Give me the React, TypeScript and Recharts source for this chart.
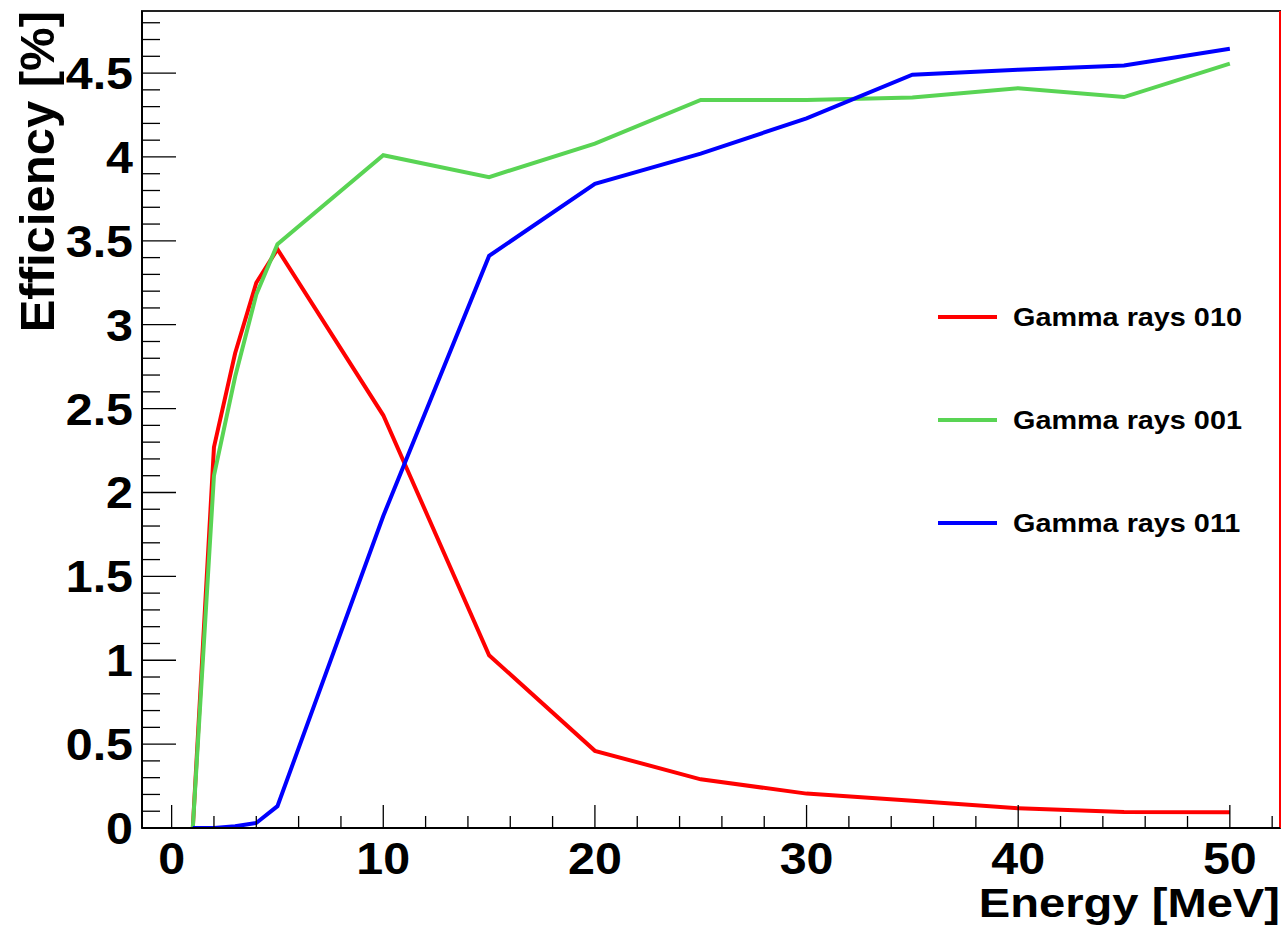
import React from 'react';
import { LineChart, Line, XAxis, YAxis, ReferenceArea, ReferenceLine, Legend, Label } from 'recharts';

const energy = [1, 2, 3, 4, 5, 10, 15, 20, 25, 30, 35, 40, 45, 50];
const rays010 = [0, 2.27, 2.83, 3.25, 3.45, 2.46, 1.03, 0.46, 0.29, 0.205, 0.163, 0.117, 0.095, 0.094];
const rays001 = [0, 2.1, 2.69, 3.18, 3.48, 4.01, 3.88, 4.08, 4.34, 4.34, 4.355, 4.41, 4.357, 4.556];
const rays011 = [0, 0, 0.01, 0.03, 0.13, 1.86, 3.41, 3.84, 4.02, 4.23, 4.49, 4.52, 4.545, 4.645];
const seriesNames = ['Gamma rays 010', 'Gamma rays 001', 'Gamma rays 011'];
const seriesColors = ['#ff0000', '#59d454', '#0000ff'];

const xMajorTicks = [0, 10, 20, 30, 40, 50];
const xTicks = [0, 2, 4, 6, 8, 10, 12, 14, 16, 18, 20, 22, 24, 26, 28, 30, 32, 34, 36, 38, 40, 42, 44, 46, 48, 50, 52];
const yMajorLabels = ['0', '0.5', '1', '1.5', '2', '2.5', '3', '3.5', '4', '4.5'];
const yTicks = Array.from({ length: 49 }, (_, i) => i / 10);

const X_DOMAIN: [number, number] = [-1.4, 52.37];
const Y_DOMAIN: [number, number] = [0, 4.87];

const data = energy.map((e, i) => ({ energy: e, r010: rays010[i], r001: rays001[i], r011: rays011[i] }));

const FONT = '"Liberation Sans", Arial, Helvetica, sans-serif';

const XTick = (props: any) => {
  const { x, y, payload } = props;
  const v = payload.value;
  const major = xMajorTicks.includes(v);
  return (
    <g>
      <line x1={x} x2={x} y1={y} y2={y - (major ? 23 : 12)} stroke="#000" strokeWidth={1.3} />
      {major && (
        <text
          transform={`translate(${x},${y + 46}) scale(1.1,1)`}
          textAnchor="middle"
          fontSize={44}
          fontWeight="bold"
          fontFamily={FONT}
          fill="#000"
        >
          {v}
        </text>
      )}
    </g>
  );
};

const YTick = (props: any) => {
  const { x, y, payload } = props;
  const v = payload.value;
  const idx = Math.round(v * 10);
  const major = idx % 5 === 0;
  return (
    <g>
      <line x1={x} x2={x + (major ? 34 : 18)} y1={y} y2={y} stroke="#000" strokeWidth={1.3} />
      {major && (
        <text
          transform={`translate(${x - 9},${y + 16}) scale(1.1,1)`}
          textAnchor="end"
          fontSize={44}
          fontWeight="bold"
          fontFamily={FONT}
          fill="#000"
        >
          {yMajorLabels[idx / 5]}
        </text>
      )}
    </g>
  );
};

const XTitle = () => (
  <text
    transform="translate(1280,917) scale(1.15,1)"
    textAnchor="end"
    fontSize={41}
    fontWeight="bold"
    fontFamily={FONT}
    fill="#000"
  >
    Energy [MeV]
  </text>
);

const YTitle = () => (
  <text
    transform="translate(54,11) rotate(-90)"
    textAnchor="end"
    fontSize={49}
    fontWeight="bold"
    fontFamily={FONT}
    fill="#000"
  >
    Efficiency [%]
  </text>
);

const renderLegend = () => (
  <svg width={350} height={260}>
    {seriesNames.map((name, i) => {
      const cy = 27 + i * 103;
      return (
        <g key={name}>
          <line x1={8} x2={67} y1={cy} y2={cy} stroke={seriesColors[i]} strokeWidth={4} />
          <text
            transform={`translate(83,${cy + 9}) scale(1.13,1)`}
            fontSize={25.5}
            fontWeight="bold"
            fontFamily={FONT}
            fill="#000"
          >
            {name}
          </text>
        </g>
      );
    })}
  </svg>
);

export default function App() {
  return (
    <div style={{ position: 'absolute', left: 0, top: 0, background: '#fff' }}>
      <LineChart width={1285} height={926} data={data} margin={{ top: 11, right: 5, bottom: 0, left: 0 }}>
        <XAxis
          type="number"
          dataKey="energy"
          domain={X_DOMAIN}
          ticks={xTicks}
          interval={0}
          tick={<XTick />}
          tickSize={0}
          tickMargin={0}
          tickLine={false}
          axisLine={{ stroke: '#000', strokeWidth: 2 }}
          height={98}
          allowDataOverflow
        >
          <Label content={XTitle} />
        </XAxis>
        <YAxis
          type="number"
          domain={Y_DOMAIN}
          ticks={yTicks}
          interval={0}
          tick={<YTick />}
          tickSize={0}
          tickMargin={0}
          tickLine={false}
          axisLine={{ stroke: '#000', strokeWidth: 2 }}
          width={142}
          allowDataOverflow
        >
          <Label content={YTitle} />
        </YAxis>
        <ReferenceArea x1={X_DOMAIN[0]} x2={X_DOMAIN[1]} y1={Y_DOMAIN[0]} y2={Y_DOMAIN[1]} fill="none" stroke="#222" strokeWidth={2} />
        <ReferenceLine y={0} stroke="#ff0000" strokeWidth={2} />
        <ReferenceLine x={X_DOMAIN[1]} stroke="#ff0000" strokeWidth={2} />
        <Line type="linear" dataKey="r010" name={seriesNames[0]} stroke={seriesColors[0]} strokeWidth={4} dot={false} isAnimationActive={false} />
        <Line type="linear" dataKey="r001" name={seriesNames[1]} stroke={seriesColors[1]} strokeWidth={4} dot={false} isAnimationActive={false} />
        <Line type="linear" dataKey="r011" name={seriesNames[2]} stroke={seriesColors[2]} strokeWidth={4} dot={false} isAnimationActive={false} />
        <Legend
          layout="horizontal"
          verticalAlign="middle"
          align="center"
          content={renderLegend}
          wrapperStyle={{ position: 'absolute', left: 930, top: 290, width: 350, height: 260 }}
        />
      </LineChart>
    </div>
  );
}
